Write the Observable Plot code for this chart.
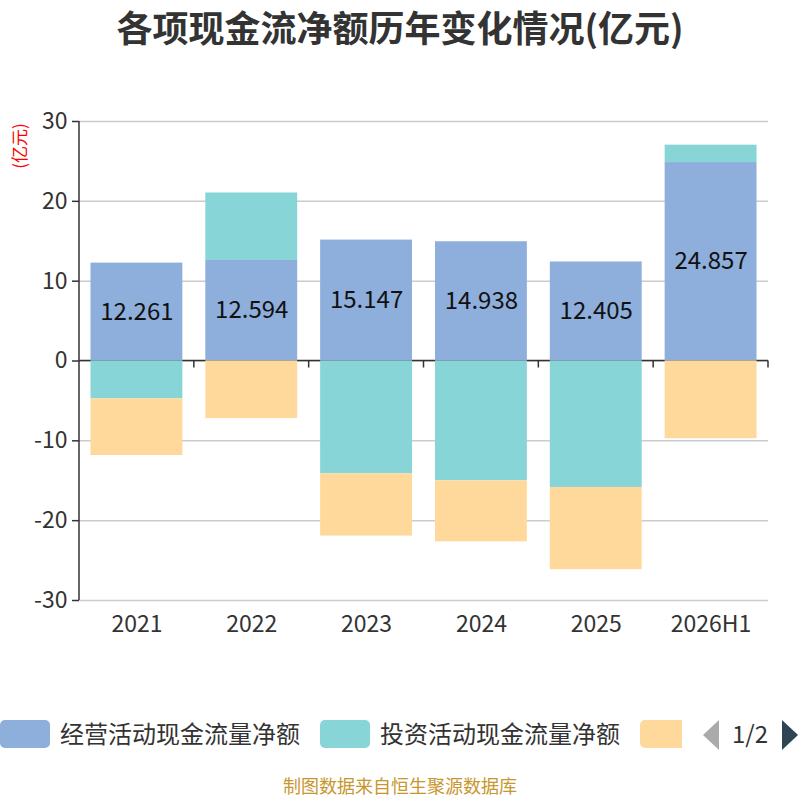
<!DOCTYPE html>
<html>
<head>
<meta charset="utf-8">
<script src="https://cdn.jsdelivr.net/npm/d3@7"></script>
<script src="https://cdn.jsdelivr.net/npm/@observablehq/plot@0.6"></script>
<style>
  html, body { margin: 0; padding: 0; background: #fff; }
  #root { position: relative; width: 800px; height: 800px; overflow: hidden; font-family: "Noto Sans CJK SC", "Noto Sans", sans-serif; }
  #title { position: absolute; left: 0; top: 2px; width: 800px; text-align: center; font-size: 36px; font-weight: bold; color: #333; line-height: 48px; }
  #unit { position: absolute; left: 18px; top: 146px; transform: translate(-50%, -50%) rotate(-90deg); font-size: 17px; color: #ff0000; white-space: nowrap; }
  #chart { position: absolute; left: 0; top: 0; }
  .sw { position: absolute; top: 720px; height: 28px; border-radius: 5px; }
  .lt { position: absolute; top: 717px; font-size: 24px; color: #333; line-height: 32px; white-space: nowrap; }
  #caption { position: absolute; left: 0; top: 775px; width: 800px; text-align: center; font-size: 18px; line-height: 20px; color: #c8962e; }
  .tri { position: absolute; top: 720px; width: 0; height: 0; border-top: 15px solid transparent; border-bottom: 15px solid transparent; }
</style>
</head>
<body>
<div id="root">
  <div id="chart"></div>
  <div id="title"></div>
  <div id="unit"></div>
  <div id="legend"></div>
  <div id="caption"></div>
</div>
<script>
const titleText = "各项现金流净额历年变化情况(亿元)";
const unitText = "(亿元)";
const captionText = "制图数据来自恒生聚源数据库";
const categories = ["2021", "2022", "2023", "2024", "2025", "2026H1"];
const seriesNames = ["经营活动现金流量净额", "投资活动现金流量净额", "筹资活动现金流量净额"];
const seriesColors = ["#8eaedb", "#88d5d8", "#fed99b"];
const operating = [12.261, 12.594, 15.147, 14.938, 12.405, 24.857];
const investing = [-4.74, 8.45, -14.13, -15.0, -15.84, 2.18];
const financing = [-7.1, -7.2, -7.8, -7.65, -10.3, -9.73];
const yTicks = [-30, -20, -10, 0, 10, 20, 30];
const pageLabel = "1/2";

document.getElementById("title").textContent = titleText;
document.getElementById("unit").textContent = unitText;
document.getElementById("caption").textContent = captionText;

const seriesValues = [operating, investing, financing];
const rows = [];
seriesNames.forEach((s, si) => {
  categories.forEach((c, ci) => rows.push({cat: c, series: s, value: seriesValues[si][ci]}));
});
const opRows = categories.map((c, i) => ({cat: c, value: operating[i]}));

const W = 800, H = 660, ML = 79, MR = 32, MT = 121, MB = 60;

const boundaryMark = (index, scales, values, dimensions) => {
  const x = scales.x, y = scales.y;
  const step = x.step ? x.step() : x.bandwidth() / 0.8;
  const g = d3.create("svg:g");
  const y0 = y(0);
  const xl = x(categories[0]) - (step - x.bandwidth()) / 2;
  g.append("line").attr("x1", xl).attr("x2", xl).attr("y1", y(30)).attr("y2", y(-30))
    .attr("stroke", "#333").attr("stroke-width", 1.5);
  g.append("line").attr("x1", xl).attr("x2", dimensions.width - dimensions.marginRight)
    .attr("y1", y0).attr("y2", y0).attr("stroke", "#333").attr("stroke-width", 1.5);
  categories.forEach(c => {
    const bx = x(c) + x.bandwidth() + (step - x.bandwidth()) / 2;
    g.append("line").attr("x1", bx).attr("x2", bx).attr("y1", y0).attr("y2", y0 + 7)
      .attr("stroke", "#333").attr("stroke-width", 1.5);
  });
  return g.node();
};

const plot = Plot.plot({
  width: W, height: H,
  marginLeft: ML, marginRight: MR, marginTop: MT, marginBottom: MB,
  style: {fontFamily: "'Noto Sans CJK SC', 'Noto Sans', sans-serif", background: "transparent", overflow: "visible"},
  x: {domain: categories, paddingInner: 0.2, paddingOuter: 0.1, round: false, label: null},
  y: {domain: [-30, 30], label: null},
  color: {domain: seriesNames, range: seriesColors},
  marks: [
    Plot.gridY(yTicks, {stroke: "#cccccc", strokeOpacity: 1, strokeWidth: 1.5}),
    boundaryMark,
    Plot.barY(rows, Plot.stackY({x: "cat", y: "value", fill: "series", order: null})),
    Plot.text(opRows, {x: "cat", y: d => d.value / 2, text: d => d.value.toFixed(3), fontSize: 24, fill: "#111"}),
    Plot.axisY(yTicks, {tickSize: 7, tickPadding: 5, fontSize: 23, fill: "#333", stroke: "#333", strokeWidth: 1.5, tickFormat: d => String(d)}),
    Plot.axisX({tickSize: 0, tickPadding: 15, fontSize: 23, fill: "#333"})
  ]
});
document.getElementById("chart").appendChild(plot);

const legend = document.getElementById("legend");
const swLeft = [0, 320, 640];
const swWidth = [50, 50, 42];
seriesNames.forEach((s, i) => {
  const sw = document.createElement("div");
  sw.className = "sw";
  sw.style.left = swLeft[i] + "px";
  sw.style.width = swWidth[i] + "px";
  sw.style.background = seriesColors[i];
  if (i === 2) { sw.style.borderTopRightRadius = "0"; sw.style.borderBottomRightRadius = "0"; }
  legend.appendChild(sw);
  if (i < 2) {
    const t = document.createElement("div");
    t.className = "lt";
    t.style.left = (swLeft[i] + 60) + "px";
    t.textContent = s;
    legend.appendChild(t);
  }
});
const triL = document.createElement("div");
triL.className = "tri";
triL.style.left = "703px";
triL.style.borderRight = "16px solid #aaaaaa";
legend.appendChild(triL);
const pg = document.createElement("div");
pg.className = "lt";
pg.style.left = "732px";
pg.textContent = pageLabel;
legend.appendChild(pg);
const triR = document.createElement("div");
triR.className = "tri";
triR.style.left = "782px";
triR.style.borderLeft = "16px solid #2f4554";
legend.appendChild(triR);
</script>
</body>
</html>
